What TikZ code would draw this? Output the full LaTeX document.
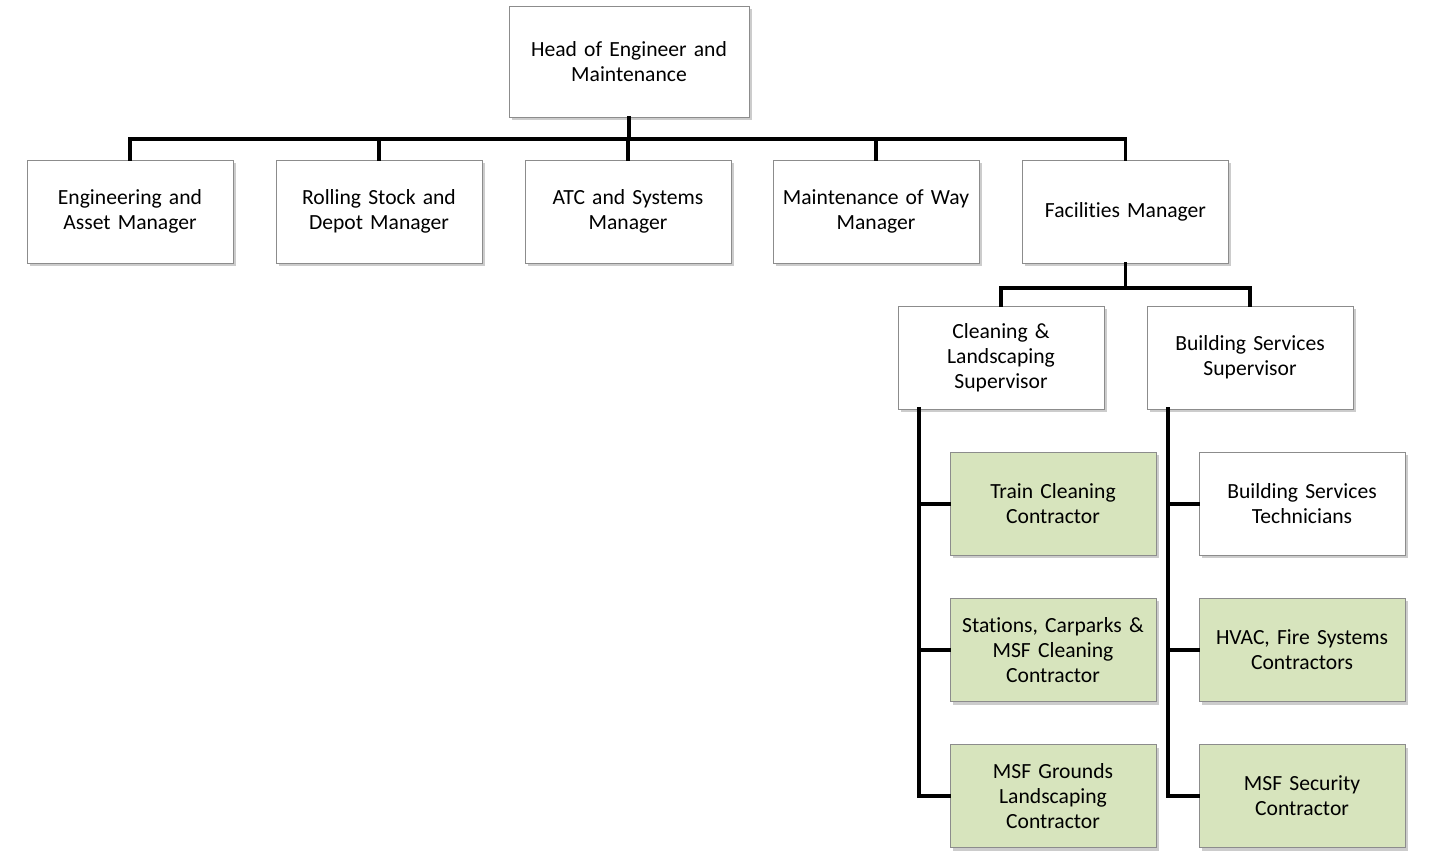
\documentclass[tikz,border=0pt]{standalone}
\usepackage{fontspec}
\setmainfont[Ligatures=NoCommon]{Carlito}
\usetikzlibrary{shadows}
\definecolor{boxgreen}{HTML}{D7E4BD}
\definecolor{boxline}{HTML}{8C8C8C}
\tikzset{
  orgbox/.style={draw=boxline, line width=0.8pt, fill=white, minimum width=206pt, minimum height=103pt,
    inner sep=2pt, align=center, text width=200pt, font=\fontsize{21.6}{25}\selectfont,
    drop shadow={opacity=0.4, shadow xshift=2.5pt, shadow yshift=-3pt}},
  greenbox/.style={orgbox, fill=boxgreen},
  conn/.style={line width=3.5pt, line cap=rect, black}
}
\begin{document}
\begin{tikzpicture}[x=1pt,y=1pt]
\useasboundingbox (0,0) rectangle (1432,860);
% level 1
\node[orgbox, minimum width=240pt, minimum height=111pt] (head) at (629,798.5) {Head of Engineer and\\Maintenance};
% level 2
\node[orgbox] (eam) at (130,648.5) {Engineering and\\Asset Manager};
\node[orgbox] (rsd) at (379,648.5) {Rolling Stock and\\Depot Manager};
\node[orgbox] (atc) at (628,648.5) {ATC and Systems\\Manager};
\node[orgbox] (mow) at (876,648.5) {Maintenance of Way\\Manager};
\node[orgbox] (fac) at (1125.5,648.5) {Facilities Manager};
% level 3
\node[orgbox] (cls) at (1001,502.5) {Cleaning \&\\Landscaping\\Supervisor};
\node[orgbox] (bss) at (1250,502.5) {Building Services\\Supervisor};
% level 4
\node[greenbox] (tcc) at (1053,356) {Train Cleaning\\Contractor};
\node[greenbox] (scm) at (1053,210) {Stations, Carparks \&\\MSF Cleaning\\Contractor};
\node[greenbox] (mgl) at (1053,64) {MSF Grounds\\Landscaping\\Contractor};
\node[orgbox] (bst) at (1302,356) {Building Services\\Technicians};
\node[greenbox] (hvac) at (1302,210) {HVAC, Fire Systems\\Contractors};
\node[greenbox] (msc) at (1302,64) {MSF Security\\Contractor};
% connectors
\coordinate (bar1) at (629,721);
\foreach \n in {eam,rsd,atc,mow,fac} {
  \draw[conn] (head.south) -- (bar1) -| (\n.north);
}
\coordinate (bar2) at (1125.5,572);
\foreach \n in {cls,bss} {
  \draw[conn] (fac.south) -- (bar2) -| (\n.north);
}
\coordinate (cl) at (919,451);
\coordinate (bl) at (1168,451);
\foreach \n in {tcc,scm,mgl} {
  \draw[conn] (cl) |- (\n.west);
}
\foreach \n in {bst,hvac,msc} {
  \draw[conn] (bl) |- (\n.west);
}
\end{tikzpicture}
\end{document}
